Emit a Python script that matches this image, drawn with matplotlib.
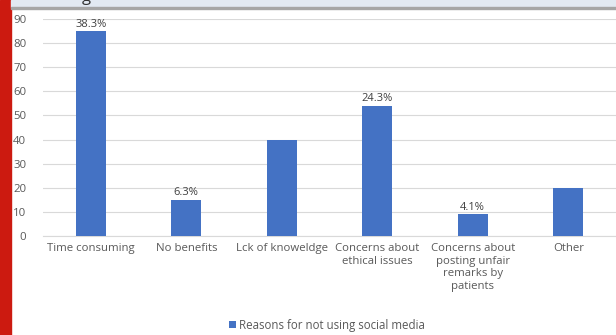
import matplotlib.pyplot as plt
from matplotlib.patches import Rectangle

categories = ["Time consuming", "No benefits", "Lck of knoweldge",
              "Concerns about\nethical issues",
              "Concerns about\nposting unfair\nremarks by\npatients", "Other"]
values = [85, 15, 40, 54, 9, 20]
labels = ["38.3%", "6.3%", "", "24.3%", "4.1%", ""]
yticks = [0, 10, 20, 30, 40, 50, 60, 70, 80, 90]

plt.rcParams["font.family"] = ["Open Sans", "DejaVu Sans"]

fig = plt.figure(figsize=(6.16, 3.35), dpi=100)
ax = fig.add_axes([43 / 616, 99 / 335, 573 / 616, 217 / 335])

x = range(len(categories))
bars = ax.bar(x, values, width=0.31, color="#4472C4", zorder=3,
              label="Reasons for not using social media")
for b, lab in zip(bars, labels):
    if lab:
        ax.text(b.get_x() + b.get_width() / 2, b.get_height() + 0.6, lab,
                ha="center", va="bottom", fontsize=8, color="#404040")

ax.set_xlim(-0.5, 5.5)
ax.set_ylim(0, 90)
ax.set_yticks(yticks)
ax.set_xticks(list(x))
ax.set_xticklabels(categories, fontsize=8.2, color="#595959", linespacing=1.2)
ax.tick_params(axis="y", labelsize=8.2, labelcolor="#595959", length=0, pad=12)
ax.tick_params(axis="x", length=0, pad=5)
ax.grid(axis="y", color="#d9d9d9", linewidth=0.8, zorder=0)
for s in ["top", "right", "left"]:
    ax.spines[s].set_visible(False)
ax.spines["bottom"].set_color("#d9d9d9")

fig.legend(loc="center", bbox_to_anchor=(327 / 616, 1 - 325 / 335), frameon=False,
           fontsize=8.3, handlelength=0.6, handleheight=0.6, handletextpad=0.3,
           labelcolor="#595959")

# page chrome around the screenshot: red margin strip and header band
fig.patches.append(Rectangle((0, 0), 11 / 616, 1, transform=fig.transFigure,
                             color="#cc1a10", zorder=5))
fig.patches.append(Rectangle((11 / 616, 1 - 7 / 335), 1, 7 / 335, transform=fig.transFigure,
                             color="#e2e9f2", zorder=5))
fig.patches.append(Rectangle((11 / 616, 1 - 9 / 335), 1, 2 / 335, transform=fig.transFigure,
                             color="#a6a6a6", zorder=5))
fig.text(82 / 616, 1 - 1 / 335, "g", fontsize=12, color="#333333", va="baseline", zorder=6)

fig.savefig("out.png", dpi=100)
plt.close()
